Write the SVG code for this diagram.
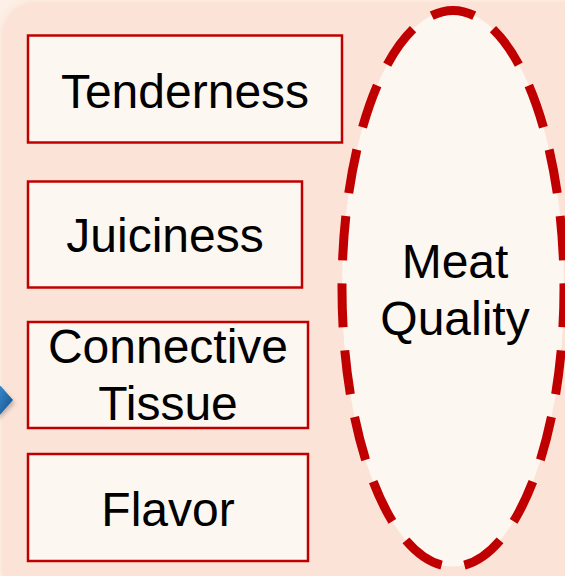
<svg xmlns="http://www.w3.org/2000/svg" width="565" height="576" viewBox="0 0 565 576">
<defs>
<style>
.box{fill:#FDF7F1;stroke:#C00000;stroke-width:2.5}
.lbl{font-family:"Liberation Sans",Arial,sans-serif;font-size:48px;fill:#000;text-anchor:middle}
</style>
<linearGradient id="blue" x1="0" y1="0" x2="1" y2="1">
<stop offset="0" stop-color="#3C8DD0"/>
<stop offset="1" stop-color="#114E8A"/>
</linearGradient>
<filter id="soft" x="-20%" y="-20%" width="140%" height="140%">
<feGaussianBlur stdDeviation="4"/>
</filter>
<filter id="sh" x="-50%" y="-50%" width="200%" height="200%">
<feGaussianBlur stdDeviation="2"/>
</filter>
</defs>
<rect x="0" y="0" width="565" height="576" fill="#FDF0E8"/>
<rect x="0" y="0" width="640" height="600" rx="36" fill="#FBE4D7" filter="url(#soft)"/>
<rect x="2" y="2" width="640" height="600" rx="34" fill="#FBE4D7"/>
<g id="arrow">
<polygon points="-2,386 15,403 -2,420" fill="#5a4a50" opacity="0.35" filter="url(#sh)"/>
<polygon points="-2,383 13,400 -2,417" fill="url(#blue)"/>
</g>
<g id="meat-quality">
<path d="M453 10.5 A111 278 0 1 1 453 566.5 A111 278 0 1 1 453 10.5 Z" fill="#FDF7F1" stroke="#C00000" stroke-width="9" stroke-dasharray="42 22" stroke-dashoffset="21" pathLength="1216"/>
<text class="lbl" x="455" y="278">Meat</text>
<text class="lbl" x="455" y="335">Quality</text>
</g>
<g id="tenderness">
<rect class="box" x="28" y="35.5" width="314" height="107"/>
<text class="lbl" x="185" y="108">Tenderness</text>
</g>
<g id="juiciness">
<rect class="box" x="28" y="181.5" width="274" height="106"/>
<text class="lbl" x="165" y="252">Juiciness</text>
</g>
<g id="connective-tissue">
<rect class="box" x="28" y="322" width="280" height="106"/>
<text class="lbl" x="168" y="363">Connective</text>
<text class="lbl" x="168" y="420">Tissue</text>
</g>
<g id="flavor">
<rect class="box" x="28" y="454" width="280" height="107"/>
<text class="lbl" x="168" y="526">Flavor</text>
</g>
<g id="connectors"></g>
</svg>
